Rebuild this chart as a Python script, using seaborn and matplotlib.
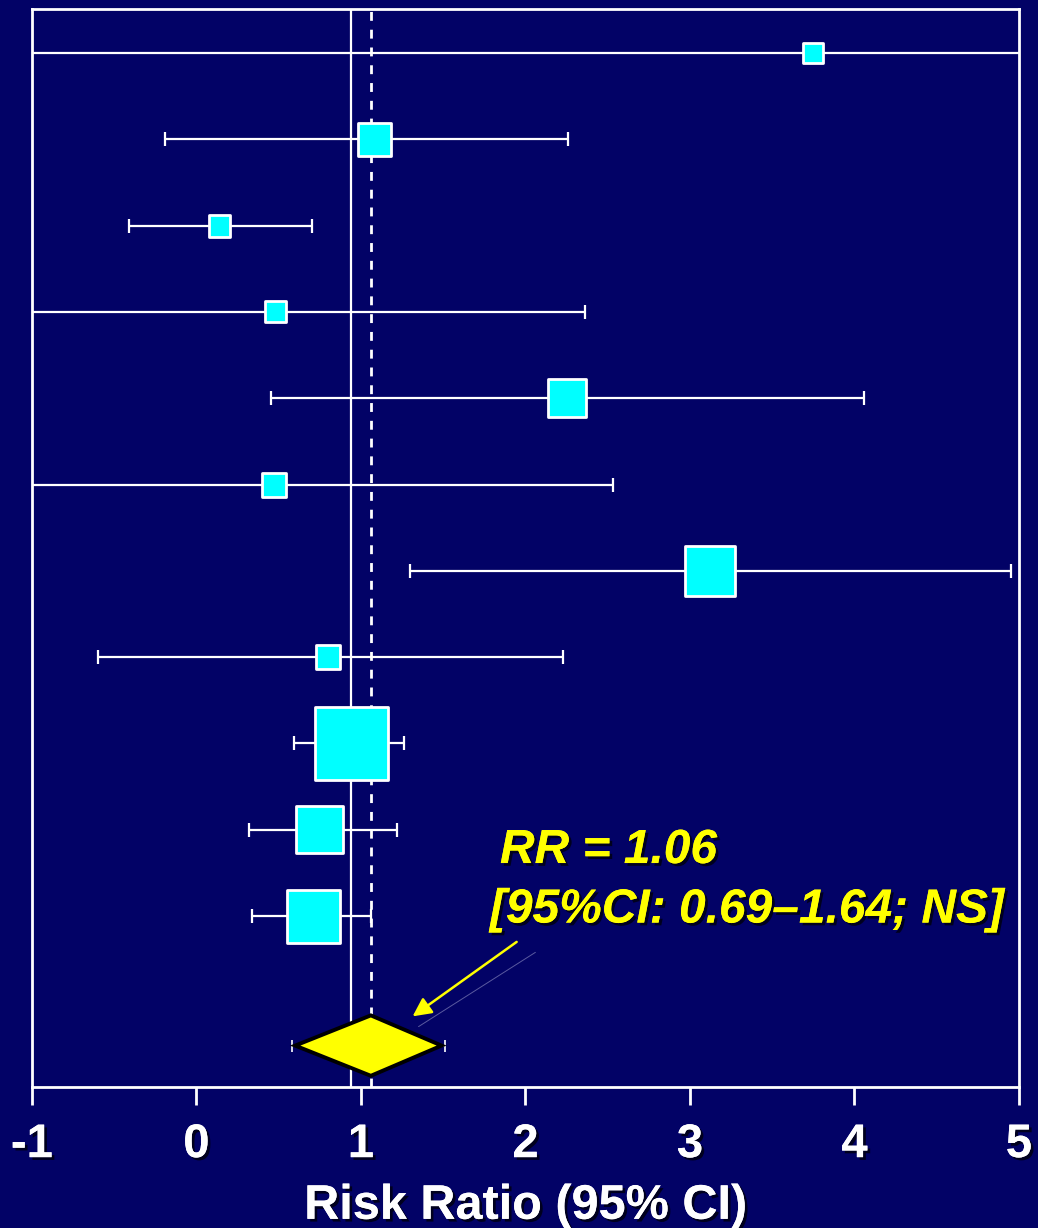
import numpy as np
import pandas as pd
import matplotlib
matplotlib.use("Agg")
import matplotlib.pyplot as plt
import matplotlib.patheffects as pe
import seaborn as sns

# study rows, top to bottom
rows = [1, 2, 3, 4, 5, 6, 7, 8, 9, 10, 11]
rr = [3.75, 1.08, 0.14, 0.48, 2.25, 0.47, 3.12, 0.80, 0.94, 0.75, 0.71]
ci_lo = [-1.4, -0.19, -0.41, -1.3, 0.45, -1.3, 1.30, -0.60, 0.59, 0.32, 0.34]
ci_hi = [5.6, 2.26, 0.70, 2.36, 4.06, 2.53, 4.95, 2.23, 1.26, 1.22, 1.06]
weight = [2.2, 6.1, 2.7, 2.5, 8.1, 3.2, 14.0, 3.2, 29.8, 12.4, 15.7]

# pooled estimate
pooled_row = 12.5
pooled_rr = 1.06
pooled_lo = 0.58
pooled_hi = 1.51

ref_line = 0.94
x_ticks = [-1, 0, 1, 2, 3, 4, 5]

df = pd.DataFrame({"rr": rr, "row": rows, "lo": ci_lo, "hi": ci_hi, "w": weight})

bg = "#020266"
sns.set_theme(style="ticks", rc={"axes.facecolor": bg, "figure.facecolor": bg})
plt.rcParams["font.family"] = ["Liberation Sans", "DejaVu Sans"]

fig = plt.figure(figsize=(10.38, 12.28), dpi=100)
ax = fig.add_axes([0.0308, 0.1148, 0.9509, 0.8779])

shadow = [pe.withSimplePatchShadow(offset=(2, -2), shadow_rgbFace="black", alpha=0.7), pe.Normal()]

ax.axvline(ref_line, color="white", lw=1.6, zorder=1)
ax.axvline(pooled_rr, color="white", lw=2.0, ls=(0, (3.2, 3.2)), zorder=1)

ax.errorbar(df["rr"], df["row"], xerr=[df["rr"] - df["lo"], df["hi"] - df["rr"]],
            fmt="none", ecolor="white", elinewidth=1.6, capsize=4.8, capthick=1.6, zorder=2)

k = 92.7
sns.scatterplot(data=df, x="rr", y="row", size="w", sizes=(k * min(weight), k * max(weight)),
                size_norm=(min(weight), max(weight)), marker="s", color="#00ffff",
                edgecolor="white", linewidth=2.0, legend=False, zorder=3, ax=ax)

# pooled diamond
ax.errorbar([pooled_rr], [pooled_row], xerr=[[pooled_rr - pooled_lo], [pooled_hi - pooled_rr]],
            fmt="none", ecolor="white", elinewidth=1.2, capsize=4, capthick=1.2, zorder=2)
h = 0.35
ax.fill([pooled_lo + 0.02, pooled_rr, pooled_hi - 0.02, pooled_rr],
        [pooled_row, pooled_row - h, pooled_row, pooled_row + h],
        facecolor="#ffff00", edgecolor="black", lw=2.8, zorder=4)

# annotation
txt_kw = dict(color="#ffff00", fontsize=34.5, fontweight="bold", fontstyle="italic",
              path_effects=shadow, va="center", ha="left")
ax.text(1.845, 10.24, "RR = 1.06", **txt_kw)
ax.text(1.784, 10.93, "[95%CI: 0.69\u20131.64; NS]", **txt_kw)
ax.plot([2.06, 1.35], [11.42, 12.28], color="#5a5aa0", lw=0.7, zorder=2)
ax.annotate("", xy=(1.30, 12.18), xytext=(1.96, 11.28),
            arrowprops=dict(arrowstyle="-|>", color="#ffff00", lw=1.8, mutation_scale=28), zorder=5)

ax.set_xlim(-1, 5)
ax.set_ylim(12.98, 0.49)
ax.set_xticks(x_ticks)
ax.set_xticklabels([str(t) for t in x_ticks])
ax.set_yticks([])
ax.set_ylabel("")
for s in ax.spines.values():
    s.set_color("white")
    s.set_linewidth(2)
ax.tick_params(axis="x", direction="out", length=13, width=2, color="white",
               labelcolor="white", labelsize=34, pad=13)
for lab in ax.get_xticklabels():
    lab.set_fontweight("bold")
    lab.set_path_effects(shadow)
ax.set_xlabel("Risk Ratio (95% CI)", color="white", fontsize=35, fontweight="bold",
              labelpad=12, path_effects=shadow)

fig.savefig("out.png", dpi=100, facecolor=bg)
